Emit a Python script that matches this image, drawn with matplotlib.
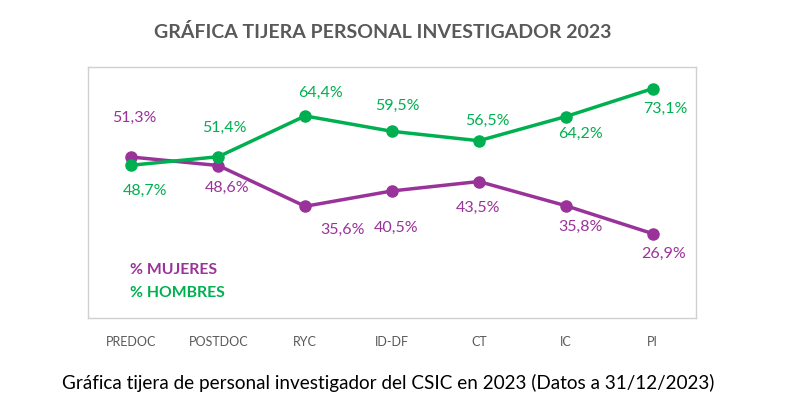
import matplotlib.pyplot as plt

categorias = ['PREDOC', 'POSTDOC', 'RYC', 'ID-DF', 'CT', 'IC', 'PI']
mujeres = [51.3, 48.6, 35.6, 40.5, 43.5, 35.8, 26.9]
hombres = [48.7, 51.4, 64.4, 59.5, 56.5, 64.2, 73.1]

MORADO = '#993399'
VERDE = '#00B050'
GRIS = '#595959'

# label offsets in pixels (dx, dy)
off_muj = [(3, 39), (9, -22), (37, -24), (4, -37), (-1, -26), (15, -21), (11, -20)]
off_hom = [(14, -26), (6, 29), (15, 23), (5, 25), (9, 20), (15, -17), (13, -20)]

plt.rcParams['font.family'] = ['Lato', 'DejaVu Sans']

fig = plt.figure(figsize=(8.02, 4.17), dpi=100)
ax = fig.add_axes([88 / 802, 1 - 318 / 417, 608 / 802, 251 / 417])

x = range(len(categorias))
ax.plot(x, mujeres, color=MORADO, lw=2.5, marker='o', ms=8, zorder=3)
ax.plot(x, hombres, color=VERDE, lw=2.5, marker='o', ms=8, zorder=3)

for i in x:
    ax.annotate(f'{mujeres[i]:.1f}%'.replace('.', ','), (i, mujeres[i]),
                xytext=off_muj[i], textcoords='offset pixels',
                ha='center', va='center', color=MORADO, fontsize=11.5)
    ax.annotate(f'{hombres[i]:.1f}%'.replace('.', ','), (i, hombres[i]),
                xytext=off_hom[i], textcoords='offset pixels',
                ha='center', va='center', color=VERDE, fontsize=11.5)

ax.set_xlim(-0.5, 6.5)
ax.set_ylim(0, 80)
ax.set_yticks([])
ax.set_xticks(list(x))
ax.set_xticklabels(categorias, color=GRIS, fontsize=9)
ax.tick_params(axis='x', length=0, pad=13)
for s in ax.spines.values():
    s.set_color('#D0D0D0')
    s.set_linewidth(1)

# legend as text
ax.text(130, 417 - 270, '% MUJERES', transform=None, color=MORADO,
        fontsize=11.3, fontweight='bold', va='center')
ax.text(130, 417 - 293, '% HOMBRES', transform=None, color=VERDE,
        fontsize=11.3, fontweight='bold', va='center')

fig.text(383 / 802, 1 - 32 / 417, 'GRÁFICA TIJERA PERSONAL INVESTIGADOR 2023',
         ha='center', va='center', color=GRIS, fontsize=14, fontweight='bold')
fig.text(388 / 802, 1 - 383 / 417,
         'Gráfica tijera de personal investigador del CSIC en 2023 (Datos a 31/12/2023)',
         ha='center', va='center', color='black', fontsize=13.6)

fig.savefig('out.png', dpi=100)
